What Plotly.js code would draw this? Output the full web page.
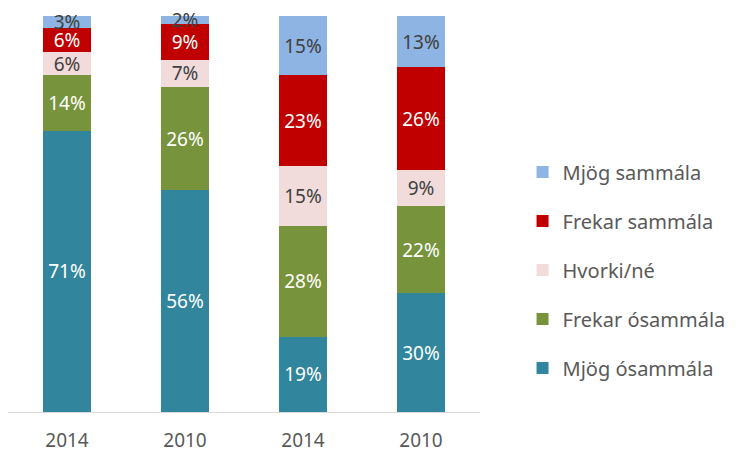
<!DOCTYPE html>
<html>
<head>
<meta charset="utf-8">
<script src="https://cdn.plot.ly/plotly-3.0.1.min.js"></script>
<style>html,body{margin:0;padding:0;background:#fff;}#chart{width:739px;height:454px;}</style>
</head>
<body>
<div id="chart"></div>
<script>
const positions = ["a", "b", "c", "d"];
const tickLabels = ["2014", "2010", "2014", "2010"];
const seriesNames = ["Mjög ósammála", "Frekar ósammála", "Hvorki/né", "Frekar sammála", "Mjög sammála"];
const mjogOsammala = [71, 56, 19, 30];
const frekarOsammala = [14, 26, 28, 22];
const hvorkiNe = [6, 7, 15, 9];
const frekarSammala = [6, 9, 23, 26];
const mjogSammala = [3, 2, 15, 13];

const seriesValues = [mjogOsammala, frekarOsammala, hvorkiNe, frekarSammala, mjogSammala];
const colors = ["#31859C", "#77933C", "#F2DCDB", "#C00000", "#8DB4E2"];
const textColors = ["#FFFFFF", "#FFFFFF", "#404040", "#FFFFFF", "#404040"];
const FONT = "Noto Sans, Open Sans, sans-serif";

const traces = seriesValues.map((vals, i) => ({
  type: "bar",
  name: seriesNames[i],
  x: positions,
  y: vals,
  marker: {color: colors[i], line: {width: 0}},
  text: vals.map(v => v + "%"),
  textposition: "inside",
  insidetextanchor: "middle",
  textangle: 0,
  constraintext: "none",
  cliponaxis: false,
  textfont: {family: FONT, size: 19, color: textColors[i]},
  insidetextfont: {family: FONT, size: 19, color: textColors[i]},
  hoverinfo: "none",
  legendgroup: "g" + i,
  legendrank: 1000 - i
}));

const layout = {
  width: 739,
  height: 454,
  margin: {l: 8, r: 254, t: 16, b: 42},
  paper_bgcolor: "#fff",
  plot_bgcolor: "#fff",
  barmode: "stack",
  bargap: 0.6,
  showlegend: true,
  legend: {
    x: (528 - 8) / 477, xanchor: "left",
    y: (412 - 270) / 396, yanchor: "middle",
    traceorder: "grouped",
    tracegroupgap: 20,
    font: {family: FONT, size: 20, color: "#595959"},
    itemwidth: 30
  },
  xaxis: {
    type: "category",
    tickvals: positions,
    ticktext: tickLabels,
    showline: true,
    linecolor: "#D9D9D9",
    linewidth: 1,
    ticks: "",
    ticklabelstandoff: 11,
    showgrid: false,
    tickfont: {family: FONT, size: 19, color: "#595959"},
    fixedrange: true
  },
  yaxis: {
    range: [0, 100],
    visible: false,
    showgrid: false,
    zeroline: false,
    fixedrange: true
  }
};

Plotly.newPlot("chart", traces, layout, {staticPlot: true, displayModeBar: false});
</script>
</body>
</html>
